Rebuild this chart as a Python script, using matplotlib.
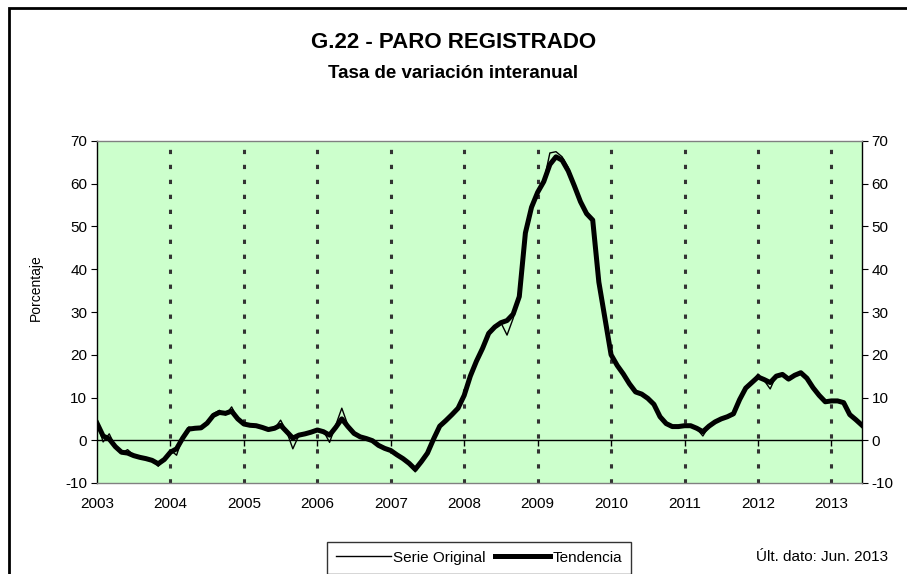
import matplotlib
matplotlib.use("Agg")
import matplotlib.pyplot as plt
from matplotlib.patches import Rectangle

plt.rcParams['font.family'] = ['Liberation Sans', 'DejaVu Sans']
plt.rcParams['axes.unicode_minus'] = False

# Datos mensuales ene-2003 .. jun-2013 (tasa de variación interanual, %)
serie_original = [
    4.5, -0.4, 1.5, -1.5, -3.0, -2.2, -3.5, -3.9, -4.2, -4.5, -6.1, -4.5,      # 2003
    -2.3, -3.5, 0.8, 3.1, 2.8, 2.7, 4.0, 6.2, 7.0, 5.9, 7.8, 5.0,              # 2004
    3.8, 3.5, 3.6, 3.0, 2.3, 2.7, 4.7, 2.0, -2.0, 1.2, 1.3, 1.8,               # 2005
    2.5, 2.2, -0.5, 3.5, 7.5, 3.5, 1.6, 0.8, 0.5, 0.0, -1.2, -1.8,             # 2006
    -2.3, -3.3, -4.2, -5.3, -7.4, -5.2, -3.0, 0.3, 3.5, 4.8, 6.0, 7.5,         # 2007
    11.0, 15.5, 18.5, 21.5, 25.4, 26.8, 27.5, 24.6, 28.5, 33.6, 49.0, 55.0,    # 2008
    58.0, 60.5, 67.2, 67.5, 66.3, 63.8, 60.0, 56.0, 53.5, 51.8, 36.7, 29.0,    # 2009
    19.5, 17.6, 15.5, 13.2, 11.3, 10.8, 9.8, 8.4, 5.5, 3.9, 3.1, 3.2,          # 2010
    3.4, 3.5, 2.7, 1.0, 3.3, 4.3, 5.0, 5.6, 5.8, 9.5, 12.2, 13.5,              # 2011
    15.5, 14.0, 12.0, 15.2, 15.6, 14.0, 15.3, 16.0, 14.5, 12.3, 10.5, 9.0,     # 2012
    9.3, 9.2, 8.8, 6.0, 4.8, 3.5,                                              # 2013
]

tendencia = [
    4.0, 1.0, 0.3, -1.5, -2.8, -3.0, -3.6, -4.0, -4.3, -4.7, -5.5, -4.5,
    -2.8, -2.0, 0.5, 2.6, 2.8, 2.9, 4.0, 5.8, 6.5, 6.3, 6.8, 5.0,
    3.8, 3.5, 3.4, 3.0, 2.5, 2.8, 3.5, 2.0, 0.5, 1.2, 1.5, 1.9,
    2.4, 2.0, 1.2, 3.0, 5.0, 3.2, 1.6, 0.8, 0.4, -0.1, -1.2, -1.9,
    -2.4, -3.4, -4.3, -5.4, -6.8, -5.0, -3.0, 0.3, 3.3, 4.6, 6.0, 7.5,
    10.5, 15.0, 18.5, 21.5, 25.0, 26.5, 27.5, 28.0, 29.5, 33.6, 48.5, 54.5,
    58.0, 60.5, 64.5, 66.3, 65.5, 63.0, 59.5, 55.8, 53.0, 51.5, 37.0, 28.5,
    20.0, 17.5, 15.5, 13.2, 11.3, 10.8, 9.8, 8.4, 5.5, 3.9, 3.2, 3.2,
    3.4, 3.4, 2.8, 2.0, 3.3, 4.3, 5.0, 5.5, 6.2, 9.5, 12.2, 13.5,
    14.8, 14.2, 13.5, 15.0, 15.4, 14.3, 15.2, 15.8, 14.5, 12.3, 10.5, 9.0,
    9.2, 9.2, 8.8, 6.0, 4.8, 3.5,
]

anios = ['2003', '2004', '2005', '2006', '2007', '2008',
         '2009', '2010', '2011', '2012', '2013']

meses = list(range(len(serie_original)))
pos_anios = [12 * i for i in range(len(anios))]

fig = plt.figure(figsize=(9.07, 5.74), dpi=100)
ax = fig.add_axes([97 / 907, 91 / 574, 765 / 907, 342 / 574])
ax.set_facecolor('#CCFFCC')

# líneas verticales discontinuas en cada año
for p in pos_anios[1:]:
    ax.axvline(p, color='#333333', lw=2.2, dashes=(1.4, 3.5), zorder=1)

ax.axhline(0, color='black', lw=1, zorder=2)
ax.plot(pos_anios[1:], [0] * (len(pos_anios) - 1), ls='none', marker=3,
        ms=4, mew=1, color='black', zorder=2)

ax.plot(meses, serie_original, color='black', lw=1.0, label='Serie Original', zorder=3)
ax.plot(meses, tendencia, color='black', lw=3.6, label='Tendencia', zorder=3)

ax.set_xlim(0, len(meses) - 1)
ax.set_ylim(-10, 70)
ax.set_yticks(range(-10, 71, 10))
ax.set_xticks(pos_anios)
ax.set_xticklabels(anios)
ax.tick_params(axis='x', length=0, pad=10, labelsize=11)
ax.tick_params(axis='y', left=True, right=True, labelleft=True, labelright=True,
               direction='out', length=4, labelsize=11, pad=3)
ax.set_ylabel('Porcentaje', fontsize=10)
ax.yaxis.set_label_coords((43 - 97) / 765, (483 - 288) / 342)

for s in ['left', 'right']:
    ax.spines[s].set_color('black')
    ax.spines[s].set_linewidth(1.0)
for s in ['top', 'bottom']:
    ax.spines[s].set_color('#808080')
    ax.spines[s].set_linewidth(1.0)

fig.text(0.5, 1 - 42 / 574, 'G.22 - PARO REGISTRADO', ha='center', va='center',
         fontsize=16, fontweight='bold')
fig.text(0.5, 1 - 73 / 574, 'Tasa de variación interanual', ha='center', va='center',
         fontsize=13.5, fontweight='bold')
fig.text(888 / 907, 1 - 557 / 574, 'Últ. dato: Jun. 2013', ha='right', va='center',
         fontsize=11)

leg = fig.legend(loc='lower center', bbox_to_anchor=(479 / 907, 0.0), ncol=2,
                 frameon=True, fancybox=False, fontsize=11, handlelength=3.6,
                 handletextpad=0.15, columnspacing=0.6, borderaxespad=0.0,
                 borderpad=0.6)
leg.get_frame().set_edgecolor('black')
leg.get_frame().set_linewidth(1.0)

# marco exterior del gráfico
fig.patches.append(Rectangle((9 / 907, -0.1), 1.2, 1.1 - 8 / 574, transform=fig.transFigure,
                             fill=False, edgecolor='black', lw=2.0))

fig.savefig('out.png', dpi=100)
